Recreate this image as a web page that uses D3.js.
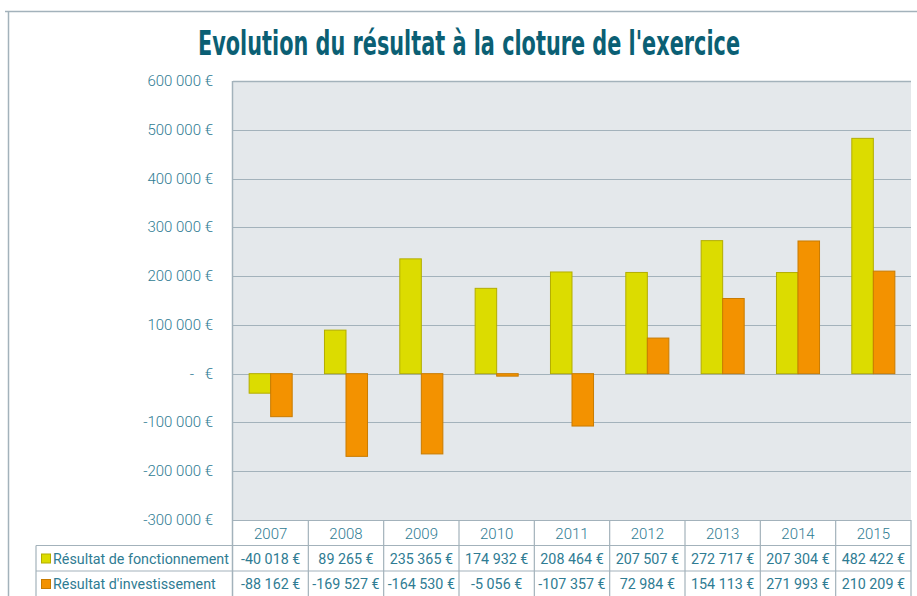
<!DOCTYPE html>
<html>
<head>
<meta charset="utf-8">
<script src="https://cdn.jsdelivr.net/npm/d3@7.9.0/dist/d3.min.js"></script>
<style>
  body { margin: 0; background: #fff; }
  svg { display: block; }
  text { font-family: Roboto, "Open Sans", sans-serif; }
</style>
</head>
<body>
<svg id="chart" width="917" height="596"></svg>
<script>
// data
const years = ['2007', '2008', '2009', '2010', '2011', '2012', '2013', '2014', '2015'];
const fonctionnement = [-40018, 89265, 235365, 174932, 208464, 207507, 272717, 207304, 482422];
const investissement = [-88162, -169527, -164530, -5056, -107357, 72984, 154113, 271993, 210209];
const seriesNames = ['Résultat de fonctionnement', "Résultat d'investissement"];
const yTicks = [600000, 500000, 400000, 300000, 200000, 100000, 0, -100000, -200000, -300000];

const colors = ['#dcdc00', '#f39200'];
const strokes = ['#b3ad00', '#c97b00'];
const textColor = '#2f7c93';
const lineColor = '#a3b2bb';

const locale = d3.formatLocale({ decimal: ',', thousands: ' ', grouping: [3], currency: ['', ' €'], minus: '-' });
const fmt = locale.format(',.0f');
const euro = (v) => fmt(v) + ' €';

const svg = d3.select('#chart');

// frame
svg.append('line').attr('x1', 5).attr('x2', 917).attr('y1', 11.5).attr('y2', 11.5)
  .attr('stroke', lineColor).attr('stroke-width', 1.5);
svg.append('line').attr('x1', 8.5).attr('x2', 8.5).attr('y1', 11).attr('y2', 596)
  .attr('stroke', lineColor).attr('stroke-width', 1.5);

// title: condensed look by squeezing horizontally to the reference width
const title = svg.append('text')
  .attr('text-anchor', 'middle')
  .attr('fill', '#0b5f74')
  .style('font-family', '"Liberation Sans Narrow", "DejaVu Sans Condensed", sans-serif')
  .style('font-weight', 'bold')
  .style('font-size', '33px')
  .text("Evolution du résultat à la cloture de l'exercice");
const tw = title.node().getComputedTextLength() || 542;
title.attr('transform', `translate(469,55) scale(${542 / tw},1)`);

const plotLeft = 233, plotRight = 911, plotTop = 81, plotBottom = 520;

const x = d3.scaleBand().domain(years).range([plotLeft, plotRight]);
const x1 = d3.scaleBand().domain([0, 1]).range([0, x.bandwidth()]).paddingOuter(0.75).paddingInner(0);
const y = d3.scaleLinear().domain([-300000, 600000]).range([plotBottom, plotTop]);

// plot background
svg.append('rect')
  .attr('x', plotLeft).attr('y', plotTop)
  .attr('width', plotRight - plotLeft).attr('height', plotBottom - plotTop)
  .attr('fill', '#e4e8eb');

// grid lines
svg.append('g').selectAll('line').data(yTicks).join('line')
  .attr('x1', plotLeft).attr('x2', plotRight)
  .attr('y1', (d) => Math.round(y(d)) + 0.5).attr('y2', (d) => Math.round(y(d)) + 0.5)
  .attr('stroke', lineColor).attr('stroke-width', 1.2);

// y labels
const yl = svg.append('g').attr('fill', textColor).style('font-size', '15px').style('font-weight', 300);
yTicks.forEach((d) => {
  if (d === 0) {
    yl.append('text').attr('x', 192).attr('y', y(d) + 5).attr('text-anchor', 'middle').text('-');
    yl.append('text').attr('x', 213).attr('y', y(d) + 5).attr('text-anchor', 'end').text('€');
  } else {
    yl.append('text').attr('x', 213).attr('y', y(d) + 5).attr('text-anchor', 'end').text(euro(d));
  }
});

// bars
const series = [fonctionnement, investissement];
series.forEach((vals, si) => {
  svg.append('g').selectAll('rect').data(vals).join('rect')
    .attr('x', (d, i) => x(years[i]) + x1(si))
    .attr('width', x1.bandwidth())
    .attr('y', (d) => y(Math.max(0, d)))
    .attr('height', (d) => Math.abs(y(d) - y(0)))
    .attr('fill', colors[si])
    .attr('stroke', strokes[si])
    .attr('stroke-width', 1);
});

// plot border
svg.append('line').attr('x1', plotLeft - 0.5).attr('x2', plotLeft - 0.5).attr('y1', plotTop).attr('y2', 596)
  .attr('stroke', lineColor).attr('stroke-width', 1.5);
svg.append('line').attr('x1', plotLeft).attr('x2', plotRight).attr('y1', plotTop + 0.5).attr('y2', plotTop + 0.5)
  .attr('stroke', lineColor).attr('stroke-width', 1.5);

// data table
const rowH = 25.5;
const tbl = svg.append('g');
tbl.append('line').attr('x1', plotLeft).attr('x2', plotRight).attr('y1', plotBottom + 0.5).attr('y2', plotBottom + 0.5)
  .attr('stroke', lineColor).attr('stroke-width', 1.2);
[1, 2, 3].forEach((r) => {
  tbl.append('line').attr('x1', 36).attr('x2', plotRight)
    .attr('y1', plotBottom + r * rowH).attr('y2', plotBottom + r * rowH)
    .attr('stroke', lineColor).attr('stroke-width', 1.2);
});
tbl.append('line').attr('x1', 36).attr('x2', 36).attr('y1', plotBottom + rowH).attr('y2', 596)
  .attr('stroke', lineColor).attr('stroke-width', 1.2);
tbl.selectAll('.vline').data(years).join('line')
  .attr('x1', (d) => x(d) + x.bandwidth()).attr('x2', (d) => x(d) + x.bandwidth())
  .attr('y1', plotBottom).attr('y2', 596)
  .attr('stroke', lineColor).attr('stroke-width', 1.2);

tbl.selectAll('.year').data(years).join('text')
  .attr('x', (d) => x(d) + x.bandwidth() / 2)
  .attr('y', plotBottom + 19)
  .attr('text-anchor', 'middle')
  .attr('fill', textColor).style('font-size', '15px').style('font-weight', 300)
  .text((d) => d);

series.forEach((vals, si) => {
  const ry = plotBottom + (si + 1) * rowH;
  tbl.append('rect').attr('x', 41.5).attr('y', ry + 8.5).attr('width', 9).attr('height', 9)
    .attr('fill', colors[si]).attr('stroke', strokes[si]).attr('stroke-width', 1);
  tbl.append('text').attr('x', 53).attr('y', ry + 18)
    .attr('fill', textColor).style('font-size', '14.3px').text(seriesNames[si]);
  tbl.append('g').selectAll('text').data(vals).join('text')
    .attr('x', (d, i) => x(years[i]) + x.bandwidth() / 2)
    .attr('y', ry + 18)
    .attr('text-anchor', 'middle')
    .attr('fill', textColor).style('font-size', '14.3px')
    .text((d) => euro(d));
});
</script>
</body>
</html>
